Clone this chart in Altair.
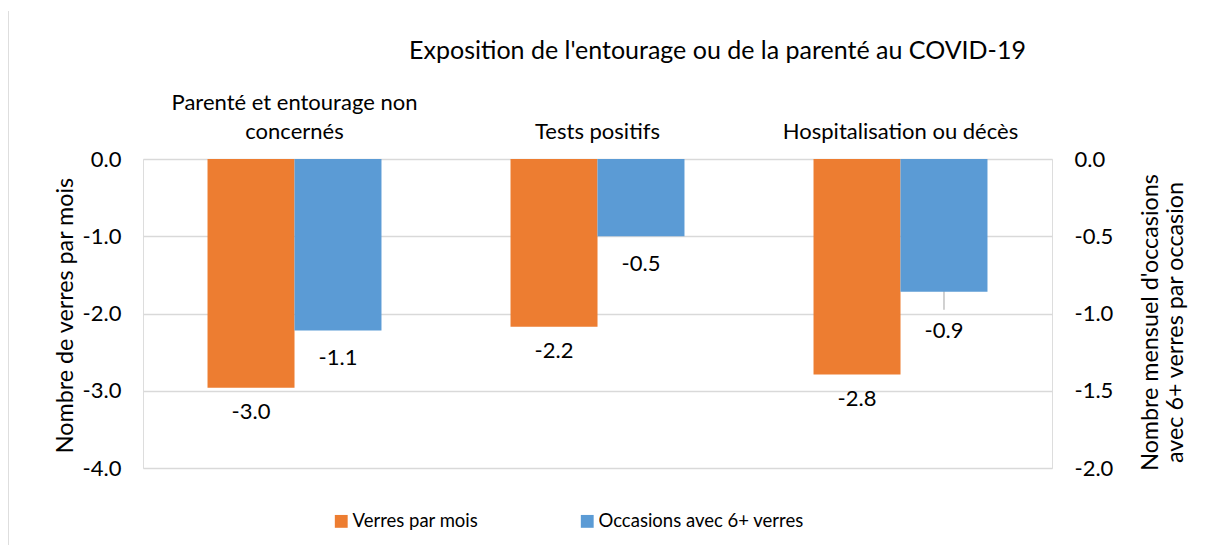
import altair as alt
import pandas as pd

categories = ["Parenté et entourage non|concernés", "Tests positifs", "Hospitalisation ou décès"]
verres_par_mois = [-2.96, -2.17, -2.79]
occasions_6plus = [-1.11, -0.50, -0.86]
series_names = ["Verres par mois", "Occasions avec 6+ verres"]
left_ticks = [0, -1, -2, -3, -4]
right_ticks = [0, -0.5, -1, -1.5, -2]

ORANGE = "#ED7D31"
BLUE = "#5B9BD5"
FONT = "Lato"
TXT = "#000000"

df_o = pd.DataFrame({"cat": categories, "value": verres_par_mois, "series": series_names[0]})
df_b = pd.DataFrame({"cat": categories, "value": occasions_6plus, "series": series_names[1]})

x_axis = alt.Axis(
    orient="top",
    title="Exposition de l'entourage ou de la parenté au COVID-19",
    titleFontSize=25,
    titleFontWeight="normal",
    titleColor=TXT,
    titleX=574,
    titleY=-109,
    titleAlign="center",
    titleBaseline="middle",
    labelExpr="indexof(datum.label, '|') >= 0 ? split(datum.label, '|') : ['', datum.label]",
    labelFontSize=22,
    labelColor=TXT,
    labelAngle=0,
    labelPadding=45,
    labelLineHeight=29,
    labelLimit=0,
    ticks=False,
    tickSize=0,
    domain=False,
    grid=False,
)
x_scale = alt.Scale(domain=categories, paddingInner=0.426, paddingOuter=0.213)
x_main = alt.X("cat:N", sort=categories, scale=x_scale, axis=x_axis)
xoff = alt.XOffset("series:N", scale=alt.Scale(domain=series_names, paddingInner=0, paddingOuter=0))
color = alt.Color(
    "series:N",
    scale=alt.Scale(domain=series_names, range=[ORANGE, BLUE]),
    legend=alt.Legend(
        title=None,
        orient="none",
        direction="horizontal",
        legendX=189,
        legendY=353,
        symbolType="square",
        symbolSize=165,
        symbolStrokeWidth=0,
        labelFontSize=18.5,
        labelColor=TXT,
        labelLimit=0,
        columnPadding=99,
        labelOffset=2,
    ),
)

minus_fix = "replace(format(datum.value, '.1f'), '\u2212', '-')"

left_axis = alt.Axis(
    orient="left",
    title="Nombre de verres par mois",
    titleFontSize=23.3,
    titleFontWeight="normal",
    titleColor=TXT,
    titlePadding=5,
    titleY=156,
    values=left_ticks,
    labelExpr=minus_fix,
    labelFontSize=22,
    labelColor=TXT,
    labelPadding=22,
    ticks=False,
    domain=False,
    grid=True,
    gridColor="#D9D9D9",
    gridWidth=1.5,
)
right_axis = alt.Axis(
    orient="right",
    title=["Nombre mensuel d'occasions", "avec 6+ verres par occasion"],
    titleFontSize=23.3,
    titleFontWeight="normal",
    titleColor=TXT,
    titleAngle=270,
    titleLineHeight=25,
    titlePadding=25,
    titleY=163,
    values=right_ticks,
    labelExpr=minus_fix,
    labelFontSize=22,
    labelColor=TXT,
    labelPadding=22,
    ticks=False,
    domain=False,
    grid=False,
)

left_scale = alt.Scale(domain=[-4, 0], nice=False, zero=False)
right_scale = alt.Scale(domain=[-2, 0], nice=False, zero=False)

label_calc = {"lbl": minus_fix}

border = alt.Chart(df_o).mark_rule(color="#D9D9D9", strokeWidth=1).encode(
    x=alt.value(-135), y=alt.value(-148), y2=alt.value(393)
)

bars_o = alt.Chart(df_o).mark_bar(size=87).encode(
    x=x_main, xOffset=xoff, y=alt.Y("value:Q", scale=left_scale, axis=left_axis), color=color
)
text_o = alt.Chart(df_o).transform_calculate(**label_calc).mark_text(
    fontSize=22, font=FONT, color=TXT, baseline="middle", dy=24
).encode(x=x_main, xOffset=xoff, y=alt.Y("value:Q", scale=left_scale, axis=None), text="lbl:N")

leader = alt.Chart(df_b).transform_filter(
    alt.datum.cat == categories[2]
).mark_tick(orient="vertical", size=36, thickness=1.5, color="#A6A6A6").encode(
    x=x_main, xOffset=xoff, y=alt.Y("value:Q", scale=right_scale, axis=None)
)
bars_b = alt.Chart(df_b).mark_bar(size=87).encode(
    x=x_main, xOffset=xoff, y=alt.Y("value:Q", scale=right_scale, axis=right_axis), color=color
)
text_b = alt.Chart(df_b).transform_filter(
    alt.datum.cat != categories[2]
).transform_calculate(**label_calc).mark_text(
    fontSize=22, font=FONT, color=TXT, baseline="middle", dy=28
).encode(x=x_main, xOffset=xoff, y=alt.Y("value:Q", scale=right_scale, axis=None), text="lbl:N")
text_b2 = alt.Chart(df_b).transform_filter(
    alt.datum.cat == categories[2]
).transform_calculate(**label_calc).mark_text(
    fontSize=22, font=FONT, color=TXT, baseline="middle", dy=39
).encode(x=x_main, xOffset=xoff, y=alt.Y("value:Q", scale=right_scale, axis=None), text="lbl:N")

chart = (
    alt.layer(border, bars_o, text_o, leader, bars_b, text_b, text_b2)
    .resolve_scale(y="independent")
    .properties(
        width=909,
        height=309,
        autosize=alt.AutoSizeParams(type="none"),
        padding={"left": 135, "top": 151, "right": 145, "bottom": 77},
        background="white",
    )
    .configure_view(strokeWidth=0)
    .configure(font=FONT)
)

chart.save("out.html", embed_options={"renderer": "svg", "actions": False})
